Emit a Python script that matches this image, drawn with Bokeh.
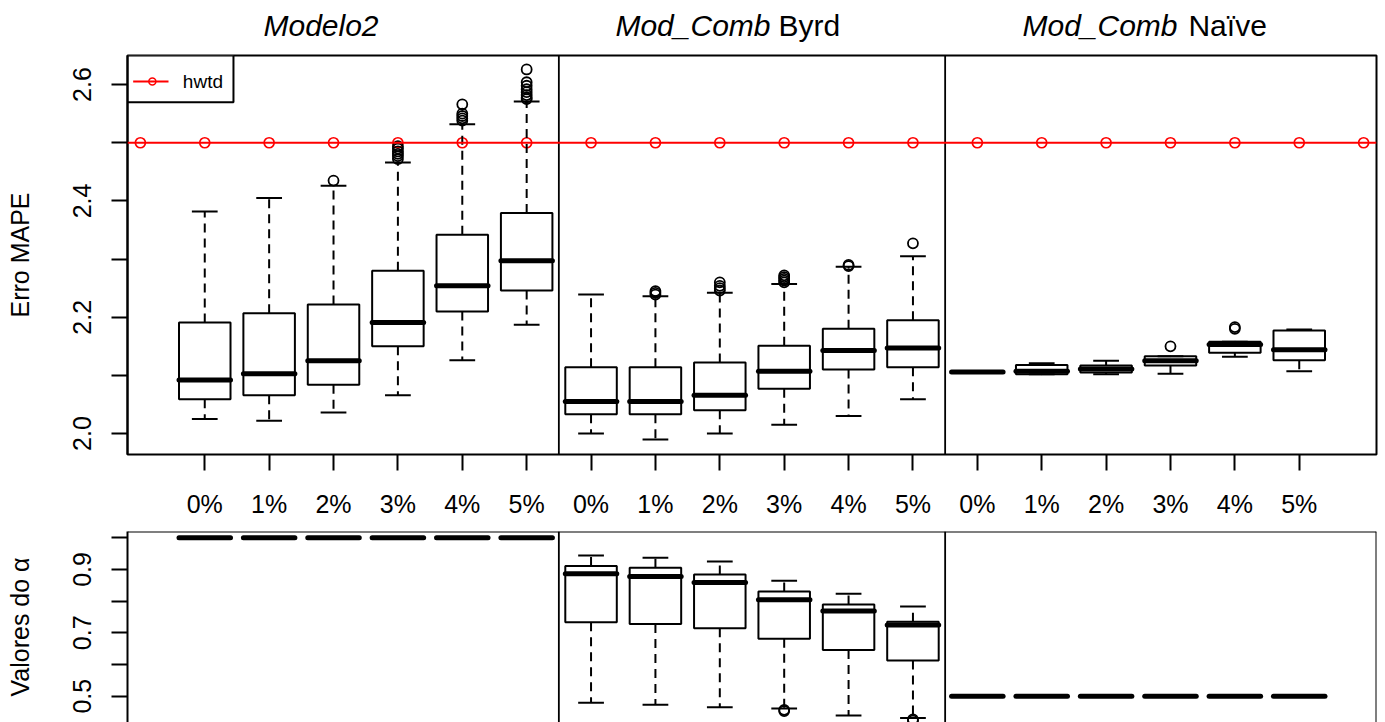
import numpy as np
from bokeh.plotting import figure
from bokeh.layouts import column
from bokeh.models import FixedTicker, Span, Range1d, ColumnDataSource
from bokeh.core.properties import value
from bokeh.embed import file_html
from bokeh.resources import INLINE

# ---------------------------------------------------------------- data
levels = ["0%", "1%", "2%", "3%", "4%", "5%"]
models = ["Modelo2", "Mod_Comb Byrd", "Mod_Comb Naïve"]

# Erro MAPE: five-number summaries, 6 noise levels per model (18 boxes)
mape_whisker_low = [2.025, 2.022, 2.036, 2.066, 2.126, 2.187,
                    2.000, 1.990, 2.000, 2.015, 2.030, 2.059,
                    2.105, 2.102, 2.102, 2.103, 2.132, 2.107]
mape_q1 = [2.059, 2.066, 2.084, 2.150, 2.210, 2.246,
           2.033, 2.033, 2.040, 2.077, 2.110, 2.114,
           2.105, 2.102, 2.105, 2.117, 2.139, 2.126]
mape_median = [2.092, 2.103, 2.125, 2.191, 2.254, 2.297,
               2.055, 2.055, 2.066, 2.107, 2.143, 2.147,
               2.106, 2.107, 2.111, 2.125, 2.153, 2.144]
mape_q3 = [2.191, 2.207, 2.222, 2.280, 2.342, 2.379,
           2.114, 2.114, 2.122, 2.151, 2.180, 2.195,
           2.107, 2.118, 2.117, 2.133, 2.158, 2.177]
mape_whisker_high = [2.382, 2.405, 2.426, 2.466, 2.532, 2.571,
                     2.239, 2.236, 2.242, 2.257, 2.287, 2.305,
                     2.107, 2.121, 2.125, 2.133, 2.158, 2.179]
mape_outliers = [[], [], [2.435],
                 [2.472, 2.477, 2.481, 2.485, 2.490, 2.494],
                 [2.538, 2.542, 2.546, 2.550, 2.566],
                 [2.575, 2.578, 2.582, 2.587, 2.592, 2.598, 2.604, 2.626],
                 [], [2.239, 2.242, 2.245], [2.246, 2.250, 2.254, 2.260],
                 [2.260, 2.263, 2.266, 2.269, 2.272], [2.288, 2.290], [2.327],
                 [], [], [], [2.150], [2.180, 2.183], []]

# reference model hwtd (constant MAPE)
hwtd_x = [0, 1, 2, 3, 4, 5, 6, 7, 8, 9, 10, 11, 12, 13, 14, 15, 16, 17, 18, 19]
hwtd_mape = [2.5, 2.5, 2.5, 2.5, 2.5, 2.5, 2.5, 2.5, 2.5, 2.5,
             2.5, 2.5, 2.5, 2.5, 2.5, 2.5, 2.5, 2.5, 2.5, 2.5]

# Valores do alpha
alpha_whisker_low = [1.0, 1.0, 1.0, 1.0, 1.0, 1.0,
                     0.479, 0.473, 0.465, 0.461, 0.439, 0.431,
                     0.5, 0.5, 0.5, 0.5, 0.5, 0.5]
alpha_q1 = [1.0, 1.0, 1.0, 1.0, 1.0, 1.0,
            0.733, 0.728, 0.714, 0.681, 0.646, 0.613,
            0.5, 0.5, 0.5, 0.5, 0.5, 0.5]
alpha_median = [1.0, 1.0, 1.0, 1.0, 1.0, 1.0,
                0.886, 0.878, 0.859, 0.804, 0.769, 0.725,
                0.5, 0.5, 0.5, 0.5, 0.5, 0.5]
alpha_q3 = [1.0, 1.0, 1.0, 1.0, 1.0, 1.0,
            0.911, 0.905, 0.884, 0.830, 0.789, 0.735,
            0.5, 0.5, 0.5, 0.5, 0.5, 0.5]
alpha_whisker_high = [1.0, 1.0, 1.0, 1.0, 1.0, 1.0,
                      0.944, 0.937, 0.925, 0.864, 0.823, 0.783,
                      0.5, 0.5, 0.5, 0.5, 0.5, 0.5]
alpha_outliers = [[], [], [], [], [], [],
                  [], [], [], [0.457, 0.453], [], [0.427, 0.423],
                  [], [], [], [], [], []]

# ---------------------------------------------------------------- style
FONT = "Liberation Sans"
W = 1385
X_RANGE = (-0.2, 19.2)
BOX_HALF = 0.4
CAP_HALF = 0.2

positions = np.arange(1, len(mape_median) + 1, dtype=float)
tick_labels = {int(i): levels[(int(i) - 1) % len(levels)] for i in positions}
x_range = Range1d(*X_RANGE)


def draw_boxes(p, lo, q1, med, q3, hi, outliers):
    src = ColumnDataSource(dict(
        x=positions, left=positions - BOX_HALF, right=positions + BOX_HALF,
        cl=positions - CAP_HALF, cr=positions + CAP_HALF,
        lo=lo, q1=q1, med=med, q3=q3, hi=hi))
    p.segment(x0="x", y0="q3", x1="x", y1="hi", source=src,
              line_color="black", line_width=2, line_dash="9 6")
    p.segment(x0="x", y0="q1", x1="x", y1="lo", source=src,
              line_color="black", line_width=2, line_dash="9 6")
    p.segment(x0="cl", y0="hi", x1="cr", y1="hi", source=src,
              line_color="black", line_width=2)
    p.segment(x0="cl", y0="lo", x1="cr", y1="lo", source=src,
              line_color="black", line_width=2)
    p.quad(left="left", right="right", bottom="q1", top="q3", source=src,
           fill_color=None, line_color="black", line_width=2)
    p.segment(x0="left", y0="med", x1="right", y1="med", source=src,
              line_color="black", line_width=5, line_cap="round")
    ox = [positions[i] for i, o in enumerate(outliers) for _ in o]
    oy = [v for o in outliers for v in o]
    if ox:
        p.scatter(ox, oy, marker="circle", size=10, fill_color=None,
                  line_color="black", line_width=1.8)


def style_left_axis(ax, label):
    ax.axis_label = label
    ax.axis_label_text_font = FONT
    ax.axis_label_text_font_size = "25px"
    ax.axis_label_text_font_style = "normal"
    ax.axis_label_text_color = "black"
    ax.axis_label_standoff = 37
    ax.major_label_text_font = FONT
    ax.major_label_text_font_size = "25px"
    ax.major_label_text_color = "black"
    ax.major_label_orientation = "vertical"
    ax.major_label_standoff = 20
    ax.major_tick_out = 16
    ax.major_tick_in = 0
    ax.major_tick_line_width = 2
    ax.minor_tick_line_color = None
    ax.axis_line_width = 2


def bare(p):
    p.grid.visible = False
    p.background_fill_color = "white"
    p.border_fill_color = "white"


# ---------------------------------------------------------------- panel titles
head = figure(width=W, height=53, output_backend="svg", toolbar_location=None,
              x_range=x_range, y_range=Range1d(0, 1),
              min_border_left=127, min_border_right=9, min_border_top=0,
              min_border_bottom=0)
bare(head)
head.outline_line_color = None
head.xaxis.visible = False
head.yaxis.visible = False

TITLE_Y = 0.528
title_parts = [
    (1.912, "Modelo2", "italic"),
    (7.379, "Mod_Comb", "italic"),
    (9.911, "Byrd", "normal"),
    (13.701, "Mod_Comb", "italic"),
    (16.279, "Naïve", "normal"),
]
for tx, txt, style in title_parts:
    head.text(x=[tx], y=[TITLE_Y], text=[txt], text_font=value(FONT),
              text_font_size="30px", text_font_style=value(style),
              text_baseline="middle", text_align="left", text_color="black")

# ---------------------------------------------------------------- MAPE panel
top = figure(width=W, height=478, output_backend="svg", toolbar_location=None,
             x_range=x_range, y_range=Range1d(1.964, 2.65),
             min_border_left=127, min_border_right=9, min_border_top=2,
             min_border_bottom=77)
bare(top)
top.outline_line_color = "black"
top.outline_line_width = 2

top.xaxis.ticker = FixedTicker(ticks=list(positions))
top.xaxis.major_label_overrides = tick_labels
top.xaxis.major_label_text_font = FONT
top.xaxis.major_label_text_font_size = "25px"
top.xaxis.major_label_text_color = "black"
top.xaxis.major_label_standoff = 19
top.xaxis.major_tick_out = 16
top.xaxis.major_tick_in = 0
top.xaxis.major_tick_line_width = 2
top.xaxis.minor_tick_line_color = None
top.xaxis.axis_line_color = None

mape_ticks = [2.0, 2.1, 2.2, 2.3, 2.4, 2.5, 2.6]
top.yaxis.ticker = FixedTicker(ticks=mape_ticks)
top.yaxis.major_label_overrides = {2.0: "2.0", 2.1: "", 2.2: "2.2", 2.3: "",
                                   2.4: "2.4", 2.5: "", 2.6: "2.6"}
style_left_axis(top.yaxis[0], "Erro MAPE")

for d in (6.5, 12.5):
    top.add_layout(Span(location=d, dimension="height", line_color="black",
                        line_width=1.8))

top.add_layout(Span(location=hwtd_mape[0], dimension="width", line_color="red",
                    line_width=2))
top.scatter(hwtd_x, hwtd_mape, marker="circle", size=10, fill_color=None,
            line_color="red", line_width=1.7)

draw_boxes(top, mape_whisker_low, mape_q1, mape_median, mape_q3,
           mape_whisker_high, mape_outliers)

# legend key in the upper left corner
top.quad(left=[-0.2], right=[1.446], bottom=[2.5695], top=[2.65],
         fill_color="white", line_color="black", line_width=2)
top.segment(x0=[-0.112], y0=[2.6051], x1=[0.437], y1=[2.6051],
            line_color="red", line_width=2)
top.scatter([0.186], [2.6051], marker="circle", size=7, fill_color=None,
            line_color="red", line_width=1.5)
top.text(x=[0.66], y=[2.6051], text=["hwtd"], text_font=value(FONT),
         text_font_size="19px", text_baseline="middle", text_align="left",
         text_color="black")

# ---------------------------------------------------------------- alpha panel
bot = figure(width=W, height=191, output_backend="svg", toolbar_location=None,
             x_range=x_range, y_range=Range1d(0.417, 1.0196),
             min_border_left=127, min_border_right=9, min_border_top=0,
             min_border_bottom=0)
bare(bot)
bot.outline_line_color = None
bot.xaxis.visible = False

alpha_ticks = [0.5, 0.6, 0.7, 0.8, 0.9, 1.0]
bot.yaxis.ticker = FixedTicker(ticks=alpha_ticks)
bot.yaxis.major_label_overrides = {0.5: "0.5", 0.6: "", 0.7: "0.7", 0.8: "",
                                   0.9: "0.9", 1.0: ""}
style_left_axis(bot.yaxis[0], "Valores do α")

bot.add_layout(Span(location=1.0196, dimension="width", line_color="black",
                    line_width=2))
bot.add_layout(Span(location=19.2, dimension="height", line_color="black",
                    line_width=2))
for d in (6.5, 12.5):
    bot.add_layout(Span(location=d, dimension="height", line_color="black",
                        line_width=1.8))

draw_boxes(bot, alpha_whisker_low, alpha_q1, alpha_median, alpha_q3,
           alpha_whisker_high, alpha_outliers)

layout = column(head, top, bot, spacing=0)
open("out.html", "w").write(file_html(layout, INLINE))
